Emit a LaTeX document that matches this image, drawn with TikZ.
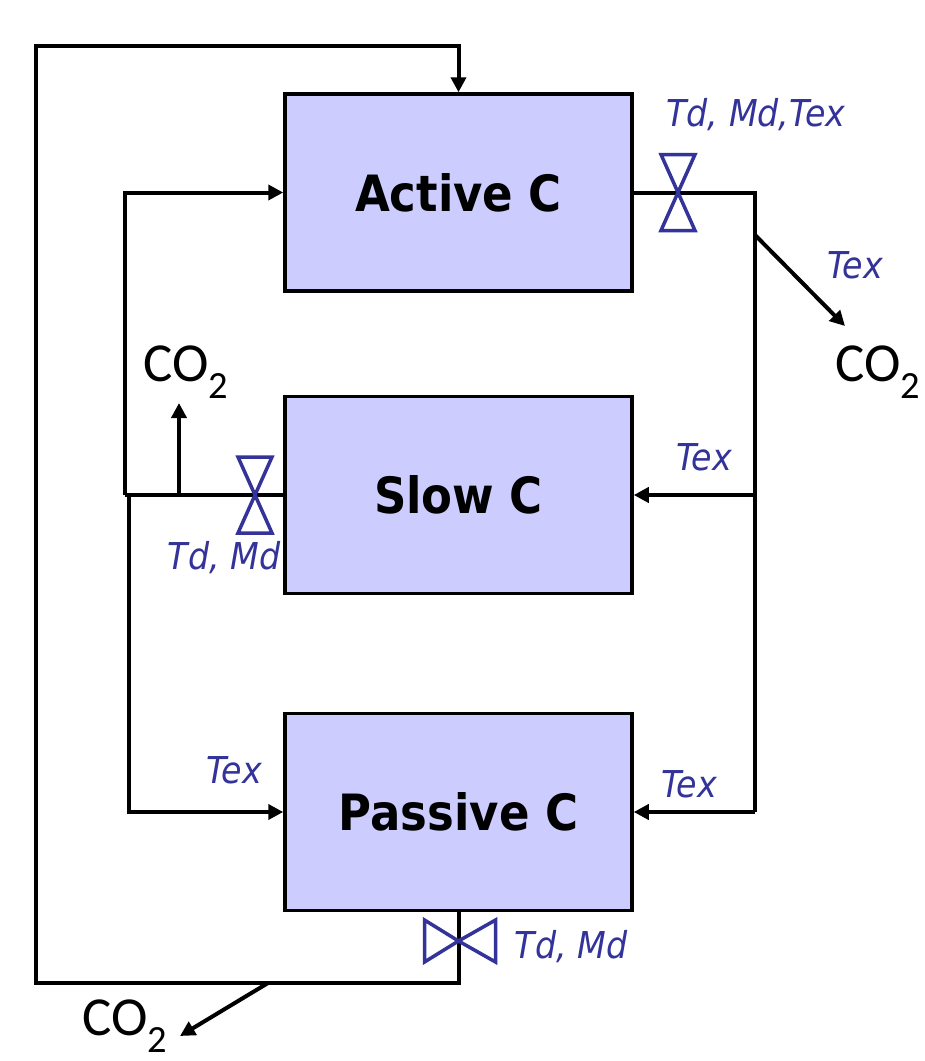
\documentclass[tikz,border=0pt]{standalone}
\usepackage{fontspec}
\newfontfamily\condfont{DejaVu Sans Condensed}
\newfontfamily\cofont{Carlito}
\usetikzlibrary{arrows.meta}
\definecolor{boxfill}{RGB}{204,204,255}
\definecolor{valveblue}{RGB}{51,51,153}
\begin{document}
\begin{tikzpicture}[x=1pt,y=-1pt,
  pool/.style={draw=black,line width=3.5pt,fill=boxfill,minimum width=347pt,minimum height=197pt,inner sep=0pt,font=\condfont\bfseries\fontsize{50}{60}\selectfont},
  flow/.style={line width=4pt},
  arr/.style={flow,-{Triangle[length=15pt,width=15pt]}},
  lab/.style={text=valveblue,font=\condfont\itshape\fontsize{37}{44}\selectfont,inner sep=0pt},
  co/.style={font=\cofont\fontsize{55}{66}\selectfont,inner sep=0pt},
  valve/.style={draw=valveblue,line width=3.5pt},
  vvalve/.pic={\draw[valve] (-17,-38) -- (17,-38) -- (0,0) -- cycle (-17,38) -- (17,38) -- (0,0) -- cycle;},
  hvalve/.pic={\draw[valve] (-34,-21) -- (-34,21) -- (0,0) -- cycle (37,-21) -- (37,21) -- (0,0) -- cycle;}]
\useasboundingbox (0,0) rectangle (925,1061);
\fill[white] (0,0) rectangle (925,1061);

% pools
\node[pool] (active) at (458.5,192.5) {Active C};
\node[pool] (slow) at (458.5,495) {Slow C};
\node[pool] (passive) at (458.5,812) {Passive C};

% coordinates
\coordinate (rtop) at (755,192.5);
\coordinate (rdiag) at (755,235);
\coordinate (rslow) at (755,495);
\coordinate (rpass) at (755,812);
\coordinate (co2rtip) at (845,326);
\coordinate (ltop) at (125,192.5);
\coordinate (lslow) at (125,495);
\coordinate (lslowb) at (129,495);
\coordinate (lpass) at (129,812);
\coordinate (co2tap) at (179,495);
\coordinate (co2ltip) at (179,403);
\coordinate (obot) at (458.5,983);
\coordinate (obl) at (36,983);
\coordinate (otl) at (36,46);
\coordinate (otr) at (458.5,46);
\coordinate (btap) at (268,983);
\coordinate (co2btip) at (180,1036);

% text
\node[co] (co2r) at (878,372) {CO\textsubscript{2}};
\node[co] (co2l) at (186,372) {CO\textsubscript{2}};
\node[co] (co2b) at (125,1026) {CO\textsubscript{2}};
\node[lab] (lvact) at (756,115) {Td, Md,Tex};
\node[lab] (ltexd) at (855,265) {Tex};
\node[lab] (ltexs) at (704,457) {Tex};
\node[lab] (ltexpr) at (689,784) {Tex};
\node[lab] (ltexpl) at (234,770) {Tex};
\node[lab] (lvslow) at (224,558) {Td, Md};
\node[lab] (lvpass) at (571,947) {Td, Md};

% connectors
\draw[flow] (active.east) -- (rtop) -- (rpass);
\draw[arr] (rslow) -- (slow.east);
\draw[arr] (rpass) -- (passive.east);
\draw[arr] (rdiag) -- (co2rtip);
\draw[flow] (slow.west) -- (lslow);
\draw[arr] (lslow) -- (ltop) -- (active.west);
\draw[arr] (lslowb) -- (lpass) -- (passive.west);
\draw[arr] (co2tap) -- (co2ltip);
\draw[arr] (passive.south) -- (obot) -- (obl) -- (otl) -- (otr) -- (active.north);
\draw[arr] (btap) -- (co2btip);

% valves
\pic at (678,192.5) {vvalve};
\pic at (255,495) {vvalve};
\pic at (458.5,941) {hvalve};
\end{tikzpicture}
\end{document}
